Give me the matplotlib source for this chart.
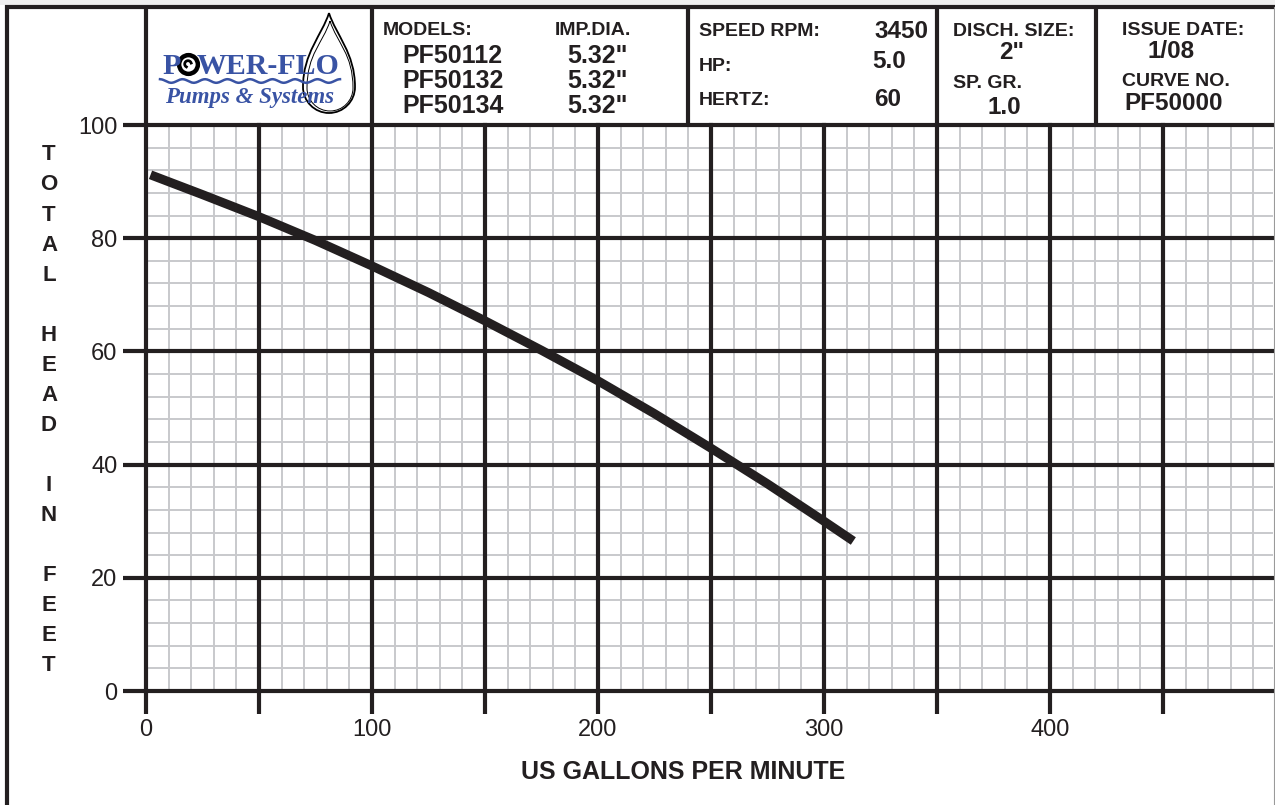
import numpy as np
import matplotlib.pyplot as plt
from matplotlib.ticker import MultipleLocator
from matplotlib.path import Path
from matplotlib.patches import PathPatch

# Pump curve (US GPM vs total head in feet)
flow_gpm = [2, 25, 50, 75, 100, 125, 150, 175, 200, 225, 250, 275, 300, 313]
head_ft = [91.2, 87.7, 83.8, 79.6, 75.1, 70.4, 65.4, 60.2, 54.8, 49.0, 42.9, 36.6, 30.0, 26.5]

x_major = list(range(0, 451, 50))
x_labels = ['0', '', '100', '', '200', '', '300', '', '400', '']
y_major = list(range(0, 101, 20))
y_labels = [str(v) for v in y_major]

models = ['PF50112', 'PF50132', 'PF50134']
imp_dia = ['5.32"', '5.32"', '5.32"']
motor_labels = ['SPEED RPM:', 'HP:', 'HERTZ:']
motor_values = ['3450', '5.0', '60']

ink = '#231f20'
grey = '#c8c9cc'
blue = '#3953a4'
W, H = 1275, 805

plt.rcParams['font.family'] = ['Liberation Sans', 'DejaVu Sans']

fig = plt.figure(figsize=(W / 100, H / 100), dpi=100)

# main plot area (pixel box 146..1273 x 125..691)
ax = fig.add_axes([146 / W, (H - 691) / H, (1273 - 146) / W, (691 - 125) / H])
ax.set_xlim(0, 498.7)
ax.set_ylim(0, 100)
ax.xaxis.set_minor_locator(MultipleLocator(10))
ax.yaxis.set_minor_locator(MultipleLocator(4))
ax.grid(which='minor', color=grey, lw=1.4, zorder=0)
ax.set_axisbelow(True)
for v in x_major:
    ax.axvline(v, color=ink, lw=3, clip_on=False, zorder=2)
for v in y_major:
    ax.axhline(v, color=ink, lw=3, clip_on=False, zorder=2)
ax.set_xticks(x_major)
ax.set_xticklabels(x_labels)
ax.set_yticks(y_major)
ax.set_yticklabels(y_labels)
ax.tick_params(which='major', direction='out', length=16.5, width=3, color=ink,
               labelsize=17, labelcolor=ink, pad=4)
ax.tick_params(which='minor', length=0)
for s in ax.spines.values():
    s.set_visible(False)

ax.plot(flow_gpm, head_ft, color=ink, lw=6.5, solid_capstyle='butt',
        solid_joinstyle='round', zorder=5)

ax.text(0.4765, -0.143, 'US GALLONS PER MINUTE', transform=ax.transAxes,
        ha='center', va='center', fontsize=18, fontweight='bold', color=ink)

# overlay in pixel coordinates for the header block and borders
ov = fig.add_axes([0, 0, 1, 1], zorder=10)
ov.set_xlim(0, W)
ov.set_ylim(H, 0)
ov.axis('off')
ov.patch.set_visible(False)

ov.axhspan(0, 5, color='#efefef', lw=0)
ov.plot([5, W], [7, 7], color=ink, lw=3, solid_capstyle='butt')
ov.plot([7, 7], [5, H], color=ink, lw=3, solid_capstyle='butt')
for xd in [146, 372, 688, 937, 1096]:
    ov.plot([xd, xd], [7, 125], color=ink, lw=3, solid_capstyle='butt')
ov.plot([1273.5, 1273.5], [7, H], color='#9a9a9a', lw=0.8)

# stacked y label
ylab = list('TOTAL') + [''] + list('HEAD') + [''] + list('IN') + [''] + list('FEET')
for i, ch in enumerate(ylab):
    if ch:
        ov.text(49, 155 + i * 30, ch, ha='center', va='center', fontsize=16,
                fontweight='bold', color=ink)

hdr = dict(fontweight='bold', color=ink, va='baseline')
ov.text(383, 35, 'MODELS:', fontsize=14, ha='left', **hdr)
ov.text(555, 35, 'IMP.DIA.', fontsize=14, ha='left', **hdr)
for i, (m, d) in enumerate(zip(models, imp_dia)):
    ov.text(402, 63 + i * 25, m, fontsize=18, ha='left', **hdr)
    ov.text(567, 63 + i * 25, d, fontsize=18, ha='left', **hdr)

for lab, val, yb, yv, xr in zip(motor_labels, motor_values, [36, 71, 105], [38, 68, 106], [928, 906, 901]):
    ov.text(699, yb, lab, fontsize=14, ha='left', **hdr)
    ov.text(xr, yv, val, fontsize=17.5, ha='right', **hdr)

ov.text(953, 36, 'DISCH. SIZE:', fontsize=14, ha='left', **hdr)
ov.text(1012, 59, '2"', fontsize=17.5, ha='center', **hdr)
ov.text(953, 88, 'SP. GR.', fontsize=14, ha='left', **hdr)
ov.text(1004, 114, '1.0', fontsize=17.5, ha='center', **hdr)

ov.text(1122, 35, 'ISSUE DATE:', fontsize=14, ha='left', **hdr)
ov.text(1171, 58, '1/08', fontsize=17.5, ha='center', **hdr)
ov.text(1122, 86, 'CURVE NO.', fontsize=14, ha='left', **hdr)
ov.text(1124, 110, 'PF50000', fontsize=17.5, ha='left', **hdr)

# logo: drop outline
def drop(cx, top, r, cy):
    k = 0.5523 * r
    verts = [(cx, top), (cx + 7, top + 22), (cx + r, cy - 34), (cx + r, cy),
             (cx + r, cy + k), (cx + k, cy + r), (cx, cy + r),
             (cx - k, cy + r), (cx - r, cy + k), (cx - r, cy),
             (cx - r, cy - 34), (cx - 7, top + 22), (cx, top)]
    codes = [Path.MOVETO] + [Path.CURVE4] * 12
    return Path(verts, codes)

ov.add_patch(PathPatch(drop(329, 13, 26, 87), fill=False, ec='black', lw=1.3))
ov.add_patch(PathPatch(drop(330, 21, 23, 88), fill=False, ec='black', lw=0.7))

serif = dict(family=['Liberation Serif', 'DejaVu Serif'], fontweight='bold', color=blue, va='baseline')
ov.text(162, 74, 'P', fontsize=21.5, ha='left', **serif)
ov.text(197, 74, 'WER-FLO', fontsize=21.5, ha='left', **serif)
ov.plot(188, 64, marker='o', ms=13.5, mfc='white', mec='black', mew=3.2)
ang = np.linspace(0.3, 4.2, 30)
ov.plot(188 + 3.3 * np.cos(ang), 64 - 3.3 * np.sin(ang), color='black', lw=2)

wx = np.linspace(160, 340, 200)
ov.plot(wx, 81 - 1.8 * np.cos(2 * np.pi * (wx - 160) / 22.5), color=blue, lw=1.8)
ov.text(165, 103, 'Pumps & Systems', fontsize=16.5, ha='left', style='italic', **serif)

fig.savefig('out.png', dpi=100, facecolor='white')
